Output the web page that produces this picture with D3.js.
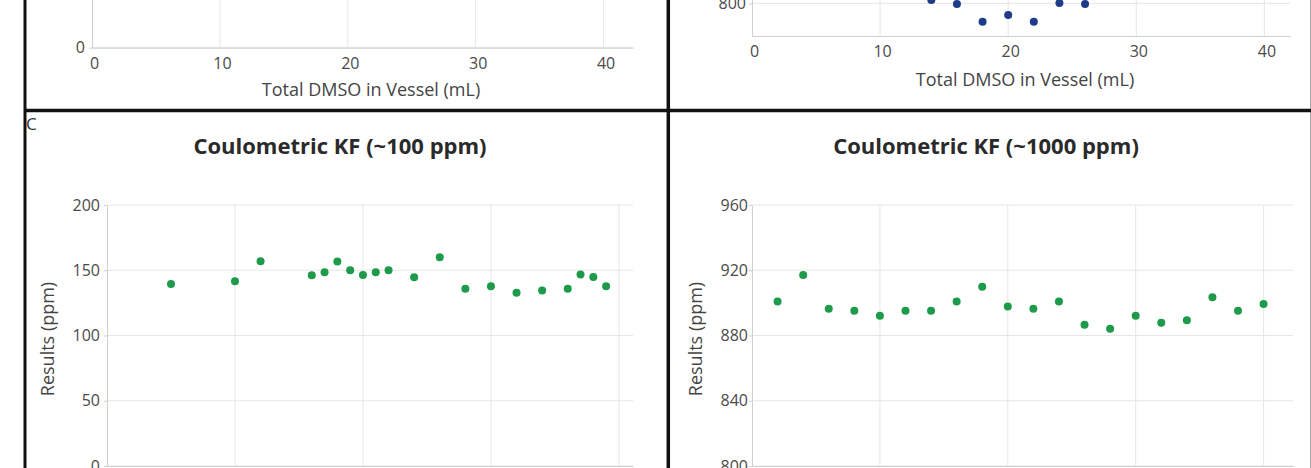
<!DOCTYPE html>
<html>
<head>
<meta charset="utf-8">
<script src="https://cdnjs.cloudflare.com/ajax/libs/d3/7.8.5/d3.min.js"></script>
<style>
  body { margin: 0; background: #fff; }
  svg { display: block; font-family: "Open Sans", sans-serif; }
</style>
</head>
<body>
<div id="fig"></div>
<script>
// values: total DMSO in vessel (mL) vs result (ppm)
var xTicks = [0, 10, 20, 30, 40];

// top right panel, only the lowest points are in view
var volHighDmso = [14, 16, 18, 20, 22, 24, 26];
var volHighRes = [802, 799.6, 788.8, 792.9, 788.8, 800.2, 799.6];

// panel C, coulometric KF ~100 ppm
var coul100Dmso = [5, 10, 12, 16, 17, 18, 19, 20, 21, 22, 24, 26, 28, 30, 32, 34, 36, 37, 38, 39];
var coul100Res = [139.5, 141.5, 156.9, 146.2, 148.5, 156.7, 150, 146.4, 148.5, 150,
                  144.6, 160, 135.9, 137.7, 132.8, 134.4, 135.9, 146.7, 144.9, 137.7];

// coulometric KF ~1000 ppm
var coul1000Dmso = [2, 4, 6, 8, 10, 12, 14, 16, 18, 20, 22, 24, 26, 28, 30, 32, 34, 36, 38, 40];
var coul1000Res = [900.9, 917.1, 896.4, 895.2, 892.1, 895.2, 895.2, 900.9, 909.9, 897.8,
                   896.4, 900.9, 886.6, 884.1, 892.1, 887.8, 889.4, 903.4, 895.2, 899.3];

var yTicksLow = [0, 50, 100, 150, 200];
var yTicksHigh = [800, 840, 880, 920, 960];
var yTicksVolHigh = [800, 840, 880, 920];

var width = 1311, height = 468;

var svg = d3.select("#fig")
  .append("svg")
  .attr("width", width)
  .attr("height", height);

// panels - the top row is cut off by the picture, so its plot area runs above y=0
var panels = [
  {left: 92, right: 633, top: -213.3, bottom: 47.7, xMax: 42.3, yDomain: [0, 200], yTicks: yTicksLow,
   xs: [], ys: [], color: "#1f3c88", yPad: 4, xTitle: "Total DMSO in Vessel (mL)", xTitleX: 371, xTitleDy: 42},
  {left: 752, right: 1290, top: -225, bottom: 36, xMax: 42.0, yDomain: [780, 940], yTicks: yTicksVolHigh,
   xs: volHighDmso, ys: volHighRes, color: "#1f3c88", yPad: 3, xTitle: "Total DMSO in Vessel (mL)", xTitleX: 1025, xTitleDy: 44},
  {left: 107, right: 633, top: 205, bottom: 466, xMax: 41.1, yDomain: [0, 200], yTicks: yTicksLow,
   xs: coul100Dmso, ys: coul100Res, color: "#1e9a4b", yPad: 4, xTitle: "Total DMSO in Vessel (mL)", xTitleX: 370, xTitleDy: 42,
   title: "Coulometric KF (~100 ppm)", titleX: 340, yTitleX: 48},
  {left: 752, right: 1293, top: 205, bottom: 466, xMax: 42.3, yDomain: [800, 960], yTicks: yTicksHigh,
   xs: coul1000Dmso, ys: coul1000Res, color: "#1e9a4b", yPad: 1, xTitle: "Total DMSO in Vessel (mL)", xTitleX: 1022, xTitleDy: 42,
   title: "Coulometric KF (~1000 ppm)", titleX: 986, yTitleX: 696}
];

// only keep labels that land (at least partly) inside the picture
function inView(py) { return py > -12 && py < height + 8; }

panels.forEach(function(p) {
  var x = d3.scaleLinear().domain([0, p.xMax]).range([p.left, p.right]);
  var y = d3.scaleLinear().domain(p.yDomain).range([p.bottom, p.top]);
  var g = svg.append("g");

  // grid lines
  g.selectAll("vgrid")
    .data(xTicks.filter(function(d) { return d > 0; }))
    .enter()
    .append("line")
      .attr("x1", function(d) { return x(d); })
      .attr("x2", function(d) { return x(d); })
      .attr("y1", p.bottom)
      .attr("y2", Math.max(p.top, 0))
      .attr("stroke", "#e6e6e6");
  g.selectAll("hgrid")
    .data(p.yTicks)
    .enter()
    .append("line")
      .attr("x1", p.left)
      .attr("x2", p.right)
      .attr("y1", function(d) { return y(d); })
      .attr("y2", function(d) { return y(d); })
      .attr("stroke", "#e6e6e6");

  // axes
  if (inView(p.bottom + 14)) {
    var xAxis = g.append("g")
      .attr("transform", "translate(0," + p.bottom + ")")
      .call(d3.axisBottom(x).tickValues(xTicks).tickSize(0).tickSizeOuter(0).tickPadding(10));
    xAxis.selectAll("text").attr("dx", 2);
  } else {
    var xAxis = g.append("g")
      .attr("transform", "translate(0," + p.bottom + ")")
      .call(d3.axisBottom(x).tickValues([]).tickSizeOuter(0));
  }

  var yAxis = g.append("g")
    .attr("transform", "translate(" + p.left + ",0)")
    .call(d3.axisLeft(y)
      .tickValues(p.yTicks.filter(function(d) { return inView(y(d)); }))
      .tickSize(3).tickSizeOuter(0).tickPadding(p.yPad));

  [xAxis, yAxis].forEach(function(a) {
    a.select(".domain").attr("stroke", "#cfcfcf");
    a.selectAll(".tick line").attr("stroke", "#cfcfcf");
    a.selectAll("text").attr("fill", "#4a4a4a").style("font-size", "16px").style("font-family", "'Open Sans', sans-serif");
  });

  // points
  var pts = p.xs.map(function(d, i) { return {x: d, y: p.ys[i]}; });
  g.selectAll("dots")
    .data(pts)
    .enter()
    .append("circle")
      .attr("cx", function(d) { return x(d.x); })
      .attr("cy", function(d) { return y(d.y); })
      .attr("r", 4)
      .attr("fill", p.color);

  // axis labels
  if (inView(p.bottom + p.xTitleDy)) {
    g.append("text")
      .attr("x", p.xTitleX)
      .attr("y", p.bottom + p.xTitleDy)
      .attr("dy", "0.35em")
      .style("text-anchor", "middle")
      .style("font-size", "18px")
      .attr("fill", "#444")
      .text(p.xTitle);
  }

  if (p.title) {
    g.append("text")
      .attr("x", p.titleX)
      .attr("y", 146.7)
      .attr("dy", "0.35em")
      .style("text-anchor", "middle")
      .style("font-size", "22px")
      .style("font-weight", "bold")
      .attr("fill", "#2a2a2a")
      .text(p.title);

    g.append("text")
      .attr("transform", "rotate(-90)")
      .attr("x", -339)
      .attr("y", p.yTitleX)
      .attr("dy", "0.35em")
      .style("text-anchor", "middle")
      .style("font-size", "18px")
      .attr("fill", "#444")
      .text("Results (ppm)");
  }
});

// panel letter
svg.append("text")
  .attr("x", 26)
  .attr("y", 124)
  .attr("dy", "0.35em")
  .style("font-size", "17px")
  .attr("fill", "#333")
  .text("C");

// figure frame
svg.append("line").attr("x1", 1310.5).attr("x2", 1310.5).attr("y1", 0).attr("y2", height)
  .attr("stroke", "#aaa").attr("stroke-width", 1);
svg.append("line").attr("x1", 25).attr("x2", width).attr("y1", 110.5).attr("y2", 110.5)
  .attr("stroke", "#111").attr("stroke-width", 3.5);
svg.append("line").attr("x1", 25).attr("x2", 25).attr("y1", 0).attr("y2", height)
  .attr("stroke", "#111").attr("stroke-width", 3);
svg.append("line").attr("x1", 668.3).attr("x2", 668.3).attr("y1", 0).attr("y2", height)
  .attr("stroke", "#111").attr("stroke-width", 3.5);
</script>
</body>
</html>
